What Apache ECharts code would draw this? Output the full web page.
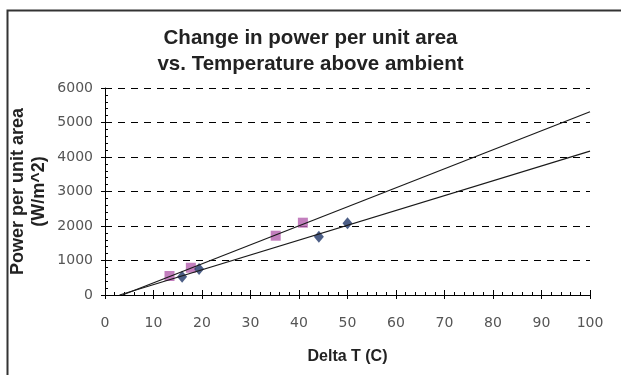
<!DOCTYPE html>
<html>
<head>
<meta charset="utf-8">
<script src="https://cdn.jsdelivr.net/npm/echarts@6/dist/echarts.min.js"></script>
<style>html,body{margin:0;padding:0;background:#fff}#c{width:621px;height:375px}</style>
</head>
<body>
<div id="c"></div>
<script>
const titleText = 'Change in power per unit area\nvs. Temperature above ambient';
const xName = 'Delta T (C)';
const yName = 'Power per unit area\n(W/m^2)';
const deltaTBlue = [15.9, 19.4, 44.1, 50.0];
const powerBlue = [530, 754, 1690, 2078];
const deltaTPink = [13.3, 17.7, 35.2, 40.8];
const powerPink = [551, 790, 1719, 2096];
const trendPinkX = [3.6, 100];
const trendPinkY = [0, 5313];
const trendBlueX = [3.0, 100];
const trendBlueY = [0, 4170];
const xMin = 0, xMax = 100, xStep = 10;
const yMin = 0, yMax = 6000, yStep = 1000;

const zip = (a, b) => a.map((v, i) => [v, b[i]]);
const labelFont = {color: '#555', fontSize: 14, fontFamily: 'DejaVu Sans', formatter: v => String(v)};
const xNameFont = {color: '#222', fontSize: 16, fontWeight: 'bold', fontFamily: 'Liberation Sans', lineHeight: 20};
const yNameFont = {color: '#222', fontSize: 18, fontWeight: 'bold', fontFamily: 'Liberation Sans', lineHeight: 21};

const chart = echarts.init(document.getElementById('c'), null, {renderer: 'canvas'});
chart.setOption({
  animation: false,
  backgroundColor: '#fff',
  graphic: [{
    type: 'rect', left: 5, top: 8, shape: {x: 0, y: 0, width: 700, height: 500},
    style: {fill: 'none', stroke: '#333', lineWidth: 2}, silent: true
  }],
  title: {
    text: titleText, left: 'center', top: 20,
    textStyle: {fontSize: 20.5, fontWeight: 'bold', fontFamily: 'Liberation Sans', color: '#222', lineHeight: 26}
  },
  grid: {left: 105, right: 31, top: 88, bottom: 80, containLabel: false, outerBoundsMode: 'none'},
  xAxis: [{
    type: 'value', min: xMin, max: xMax, interval: xStep, position: 'bottom',
    name: xName, nameLocation: 'middle', nameGap: 52, nameTextStyle: xNameFont, nameMoveOverlap: false,
    axisLine: {lineStyle: {color: '#000', width: 1}},
    axisTick: {inside: true, length: 5, lineStyle: {color: '#000'}},
    minorTick: {show: true, splitNumber: 5, length: 3, lineStyle: {color: '#000'}},
    axisLabel: Object.assign({margin: 21}, labelFont),
    splitLine: {show: false}
  }, {
    type: 'value', min: xMin, max: xMax, interval: xStep, position: 'bottom',
    axisLine: {show: false}, axisLabel: {show: false}, splitLine: {show: false},
    axisTick: {inside: false, length: 4, lineStyle: {color: '#000'}}
  }],
  yAxis: [{
    type: 'value', min: yMin, max: yMax, interval: yStep, position: 'left',
    name: yName, nameLocation: 'middle', nameGap: 55, nameRotate: 90, nameTextStyle: yNameFont, nameMoveOverlap: false,
    axisLine: {show: true, lineStyle: {color: '#000', width: 1}},
    axisTick: {show: true, inside: true, length: 5, lineStyle: {color: '#000'}},
    minorTick: {show: true, splitNumber: 5, length: 3, lineStyle: {color: '#000'}},
    axisLabel: Object.assign({margin: 12}, labelFont),
    splitLine: {show: true, lineStyle: {color: '#000', width: 1, type: [7, 6]}}
  }, {
    type: 'value', min: yMin, max: yMax, interval: yStep, position: 'left',
    axisLine: {show: false}, axisLabel: {show: false}, splitLine: {show: false},
    axisTick: {show: true, inside: false, length: 4, lineStyle: {color: '#000'}}
  }],
  series: [{
    type: 'line', data: zip(trendPinkX, trendPinkY), showSymbol: false, symbol: 'none',
    lineStyle: {color: '#1a1a1a', width: 1.2}, z: 3
  }, {
    type: 'line', data: zip(trendBlueX, trendBlueY), showSymbol: false, symbol: 'none',
    lineStyle: {color: '#1a1a1a', width: 1.2}, z: 3
  }, {
    type: 'scatter', data: zip(deltaTPink, powerPink), symbol: 'rect', symbolSize: 10,
    itemStyle: {color: '#b45fae'}, z: 2
  }, {
    type: 'scatter', data: zip(deltaTBlue, powerBlue), symbol: 'diamond', symbolSize: [10, 12],
    itemStyle: {color: '#1f3668'}, z: 2
  }]
});
</script>
</body>
</html>
